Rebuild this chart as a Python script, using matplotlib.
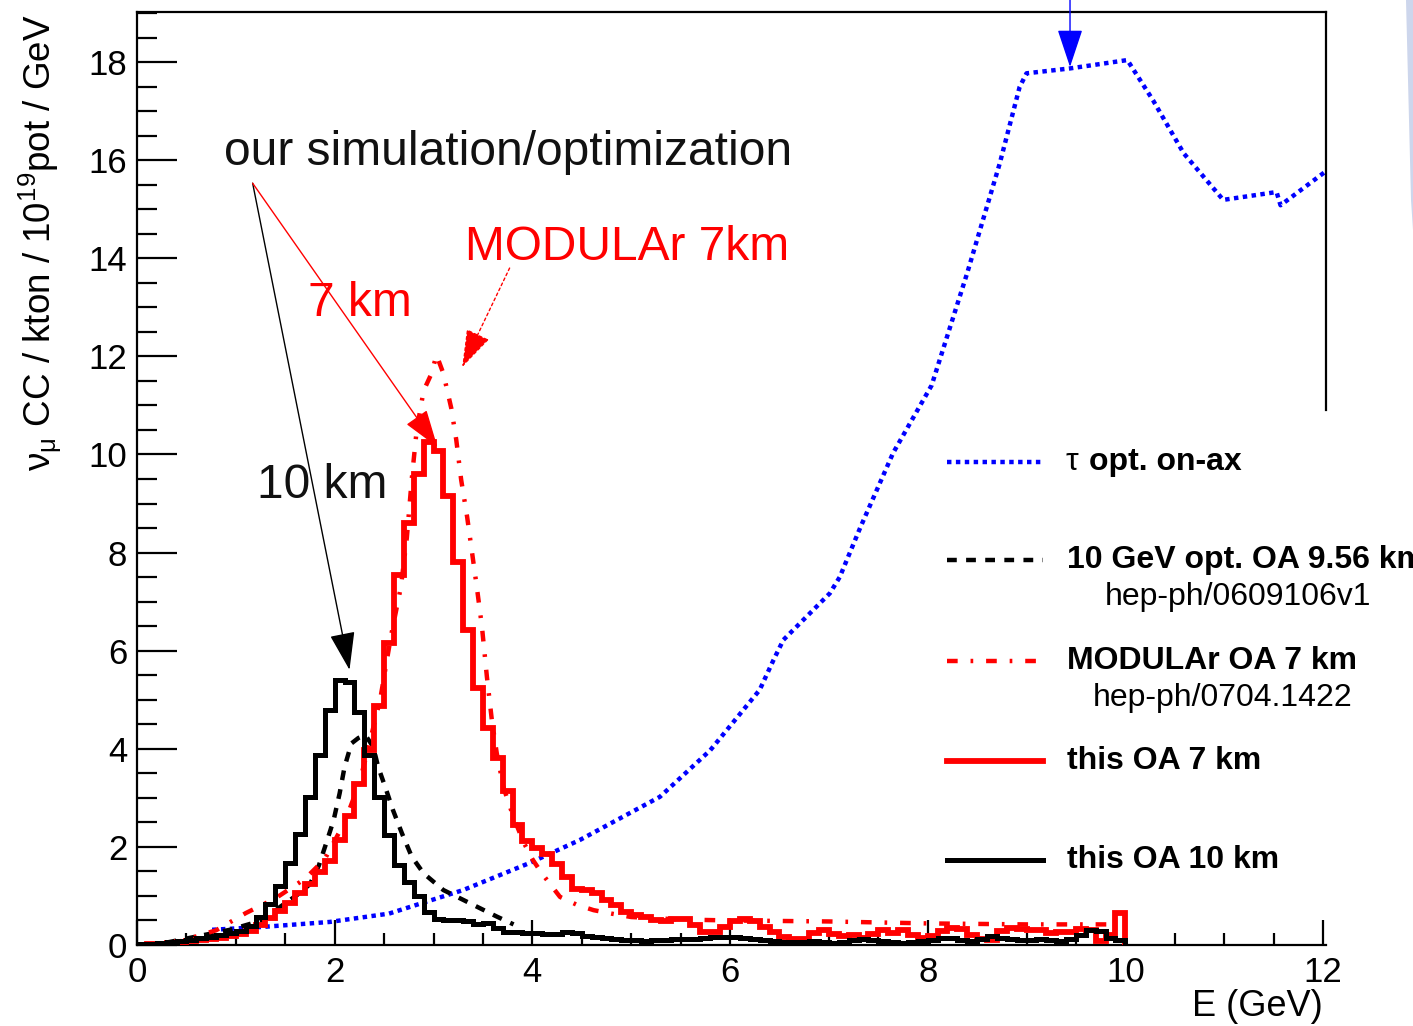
import numpy as np
import matplotlib
matplotlib.use("Agg")
import matplotlib.pyplot as plt
from matplotlib.patches import Polygon
from matplotlib.lines import Line2D

plt.rcParams['font.family'] = ['Liberation Sans', 'DejaVu Sans']
plt.rcParams['mathtext.fontset'] = 'custom'
plt.rcParams['mathtext.rm'] = 'Liberation Sans'
plt.rcParams['mathtext.it'] = 'Liberation Sans:italic'

# ---- data ----
bin_edges = np.linspace(0.0, 10.0, 101)   # 0.1 GeV bins

# this OA 7 km (red histogram)
oa7_counts = [
    0.01, 0.02, 0.03, 0.05, 0.06, 0.08, 0.10, 0.12, 0.15, 0.18,
    0.22, 0.28, 0.40, 0.55, 0.70, 0.85, 1.05, 1.24, 1.48, 1.72,
    2.14, 2.62, 3.28, 3.98, 4.87, 6.15, 7.55, 8.60, 9.61, 10.25,
    10.07, 9.15, 7.81, 6.42, 5.23, 4.42, 3.81, 3.13, 2.45, 2.12,
    1.97, 1.85, 1.66, 1.39, 1.15, 1.12, 1.05, 0.92, 0.82, 0.68,
    0.61, 0.58, 0.51, 0.48, 0.52, 0.54, 0.41, 0.27, 0.27, 0.37,
    0.48, 0.54, 0.48, 0.37, 0.27, 0.17, 0.13, 0.13, 0.25, 0.30,
    0.22, 0.18, 0.20, 0.15, 0.22, 0.30, 0.25, 0.30, 0.20, 0.15,
    0.18, 0.28, 0.35, 0.33, 0.20, 0.12, 0.10, 0.28, 0.35, 0.33,
    0.30, 0.30, 0.25, 0.27, 0.27, 0.33, 0.30, 0.08, 0.20, 0.65]

# this OA 10 km (black histogram)
oa10_counts = [
    0.02, 0.03, 0.05, 0.07, 0.09, 0.11, 0.14, 0.17, 0.20, 0.24,
    0.29, 0.39, 0.57, 0.84, 1.21, 1.68, 2.27, 3.02, 3.88, 4.80,
    5.40, 5.37, 4.74, 3.88, 3.01, 2.24, 1.64, 1.28, 1.00, 0.68,
    0.52, 0.51, 0.50, 0.48, 0.42, 0.44, 0.35, 0.27, 0.27, 0.25,
    0.24, 0.22, 0.22, 0.26, 0.24, 0.18, 0.16, 0.15, 0.13, 0.11,
    0.10, 0.09, 0.10, 0.11, 0.12, 0.12, 0.13, 0.15, 0.16, 0.16,
    0.17, 0.15, 0.13, 0.11, 0.09, 0.07, 0.06, 0.06, 0.08, 0.06,
    0.05, 0.07, 0.10, 0.12, 0.10, 0.08, 0.06, 0.05, 0.06, 0.08,
    0.10, 0.14, 0.15, 0.10, 0.08, 0.12, 0.18, 0.15, 0.12, 0.10,
    0.10, 0.12, 0.10, 0.08, 0.12, 0.20, 0.30, 0.28, 0.15, 0.10]

# tau opt. on-axis (blue dotted)
tau_e = [0.76, 1.28, 1.95, 2.55, 2.83, 3.30, 3.97, 4.48, 5.29, 5.80,
         6.30, 6.44, 6.54, 7.01, 7.11, 7.32, 7.65, 8.04, 8.40, 8.73,
         8.93, 9.00, 9.44, 10.02, 10.28, 10.59, 10.99, 11.53, 11.57, 12.02]
tau_flux = [0.31, 0.37, 0.47, 0.64, 0.82, 1.12, 1.67, 2.14, 3.02, 3.97,
            5.20, 5.81, 6.22, 7.17, 7.50, 8.52, 10.03, 11.41, 13.70, 15.94,
            17.49, 17.77, 17.87, 18.04, 17.22, 16.14, 15.19, 15.35, 15.08, 15.76]

# 10 GeV opt. OA 9.56 km (black dashed)
oa956_e = [0.30, 0.94, 1.28, 1.45, 1.62, 1.75, 1.84, 1.92, 1.99, 2.05,
           2.10, 2.17, 2.24, 2.31, 2.39, 2.44, 2.51, 2.59, 2.68, 2.78,
           2.90, 3.10, 3.30, 3.47, 3.64, 3.81]
oa956_flux = [0.05, 0.31, 0.51, 0.78, 1.02, 1.24, 1.62, 2.11, 2.55, 3.09,
              3.63, 4.11, 4.22, 4.28, 4.04, 3.63, 3.23, 2.75, 2.28, 1.80,
              1.46, 1.12, 0.92, 0.75, 0.58, 0.42]

# MODULAr OA 7 km (red dash-dot)
modular_e = [0.35, 0.80, 1.10, 1.40, 1.70, 1.90, 2.10, 2.25, 2.35, 2.46,
             2.57, 2.67, 2.73, 2.78, 2.83, 2.90, 2.98, 3.03, 3.10, 3.18,
             3.23, 3.28, 3.34, 3.39, 3.44, 3.49, 3.54, 3.59, 3.64, 3.71,
             3.81, 3.91, 4.00, 4.10, 4.28, 4.45, 4.62, 4.80, 5.00, 5.50,
             6.00, 7.00, 8.00, 9.00, 9.90]
modular_flux = [0.02, 0.30, 0.65, 0.95, 1.35, 1.75, 2.50, 3.30, 4.10, 5.00,
                6.30, 7.30, 8.30, 9.50, 10.50, 11.30, 11.65, 12.03, 11.65, 10.94,
                10.30, 9.48, 8.73, 8.00, 7.27, 6.49, 5.47, 4.59, 3.91, 3.20,
                2.60, 2.10, 1.75, 1.45, 0.98, 0.82, 0.71, 0.64, 0.57, 0.52,
                0.50, 0.48, 0.44, 0.42, 0.42]

legend_labels = [r'$\mathrm{\tau}$', '10 GeV opt. OA 9.56 km', 'MODULAr OA 7 km',
                 'this OA 7 km', 'this OA 10 km']
legend_refs = ['hep-ph/0609106v1', 'hep-ph/0704.1422']

# ---- figure ----
W, H = 1413, 1026
fig = plt.figure(figsize=(W / 100, H / 100), dpi=100)
ax = fig.add_axes([137 / W, 1 - 945 / H, (1326 - 137) / W, (945 - 12) / H])


def px(x, y):
    # figure pixel (from top-left) -> figure fraction
    return x / W, 1 - y / H


dot_style = (0, (1, 1))
dash_style = (0, (2.2, 2.1))
dashdot_style = (0, (2.4, 2.9, 0.6, 2.9))

ax.plot(tau_e, tau_flux, color='#0000ff', lw=3.2, ls=dot_style, zorder=2)
ax.plot(oa956_e, oa956_flux, color='black', lw=3.2, ls=dash_style, zorder=3)
ax.plot(modular_e, modular_flux, color='#ff0000', lw=3.2, ls=dashdot_style, zorder=3)
ax.stairs(oa7_counts, bin_edges, color='#ff0000', lw=4.2, zorder=4)
ax.stairs(oa10_counts, bin_edges, color='black', lw=3.6, zorder=5)

ax.set_xlim(0, 12.03)
ax.set_ylim(0, 19.02)
ax.set_xticks([0, 2, 4, 6, 8, 10, 12])
ax.set_xticks(np.arange(0, 12.01, 0.5), minor=True)
ax.set_yticks([0, 2, 4, 6, 8, 10, 12, 14, 16, 18])
ax.set_yticks(np.arange(0, 19.01, 0.5), minor=True)
ax.tick_params(axis='y', which='major', direction='in', length=29, width=1.6,
               labelsize=25, pad=7)
ax.tick_params(axis='y', which='minor', direction='in', length=14.5, width=1.6)
ax.tick_params(axis='x', which='major', direction='in', length=18, width=1.6,
               labelsize=25, pad=8)
ax.tick_params(axis='x', which='minor', direction='in', length=9, width=1.6)
for s in ax.spines.values():
    s.set_linewidth(1.6)
ax.spines['right'].set_bounds(10.9, 19.02)

fig.text(*px(40, 15), r'$\mathrm{\nu_{\mu}}$ CC / kton / 10$^{\mathrm{19}}$pot / GeV',
         rotation=90, ha='center', va='top', fontsize=26.5)
fig.text(*px(1323, 1006), 'E (GeV)', ha='right', va='center', fontsize=26)

# annotations
ax.text(0.88, 15.90, 'our simulation/optimization', fontsize=34.5, color='#111111')
ax.text(3.32, 13.96, 'MODULAr 7km', fontsize=34.5, color='#ff0000')
ax.text(1.73, 12.82, '7 km', fontsize=34.5, color='#ff0000')
ax.text(1.21, 9.11, '10 km', fontsize=34.5, color='#111111')

head = '-|>,head_length=24,head_width=8'
arrows = [((1.17, 15.53), (2.15, 5.61), 'black', '-'),
          ((1.17, 15.53), (3.04, 10.15), '#ff0000', '-'),
          ((3.77, 13.80), (3.29, 11.78), '#ff0000', (0, (2, 2))),
          ((9.44, 19.40), (9.44, 17.90), '#0000ff', '-')]
for start, tip, col, ls in arrows:
    ax.annotate('', xy=tip, xytext=start, annotation_clip=False,
                arrowprops=dict(arrowstyle=head, mutation_scale=1, lw=1,
                                color=col, ls=ls, shrinkA=0, shrinkB=0))

# legend (drawn by hand, ROOT style)
leg_rows = [462, 560, 661, 761, 860]
leg_styles = [('#0000ff', dot_style, 3.2), ('black', dash_style, 3.2),
              ('#ff0000', dashdot_style, 3.2), ('#ff0000', '-', 4.2), ('black', '-', 3.6)]
for row, (col, ls, lw), lab in zip(leg_rows, leg_styles, legend_labels):
    x0, y0 = px(947, row)
    x1, _ = px(1043, row)
    fig.add_artist(Line2D([x0, x1], [y0, y0], color=col, ls=ls, lw=lw))
    if row == leg_rows[0]:
        fig.text(*px(1065, row), lab, fontsize=23, va='center')
        fig.text(*px(1089, row), 'opt. on-ax', fontsize=23, va='center',
                 fontweight='bold')
    else:
        fig.text(*px(1067, row), lab, fontsize=23, va='center', fontweight='bold')
fig.text(*px(1105, 597), legend_refs[0], fontsize=23, va='center')
fig.text(*px(1093, 698), legend_refs[1], fontsize=23, va='center')

# faint slide background at the right edge
edge = Polygon([px(1406, 0), px(1413, 0), px(1413, 230), px(1411, 200)],
               closed=True, transform=fig.transFigure, color='#cdd6ec', lw=0)
fig.add_artist(edge)

fig.savefig('out.png', dpi=100)
